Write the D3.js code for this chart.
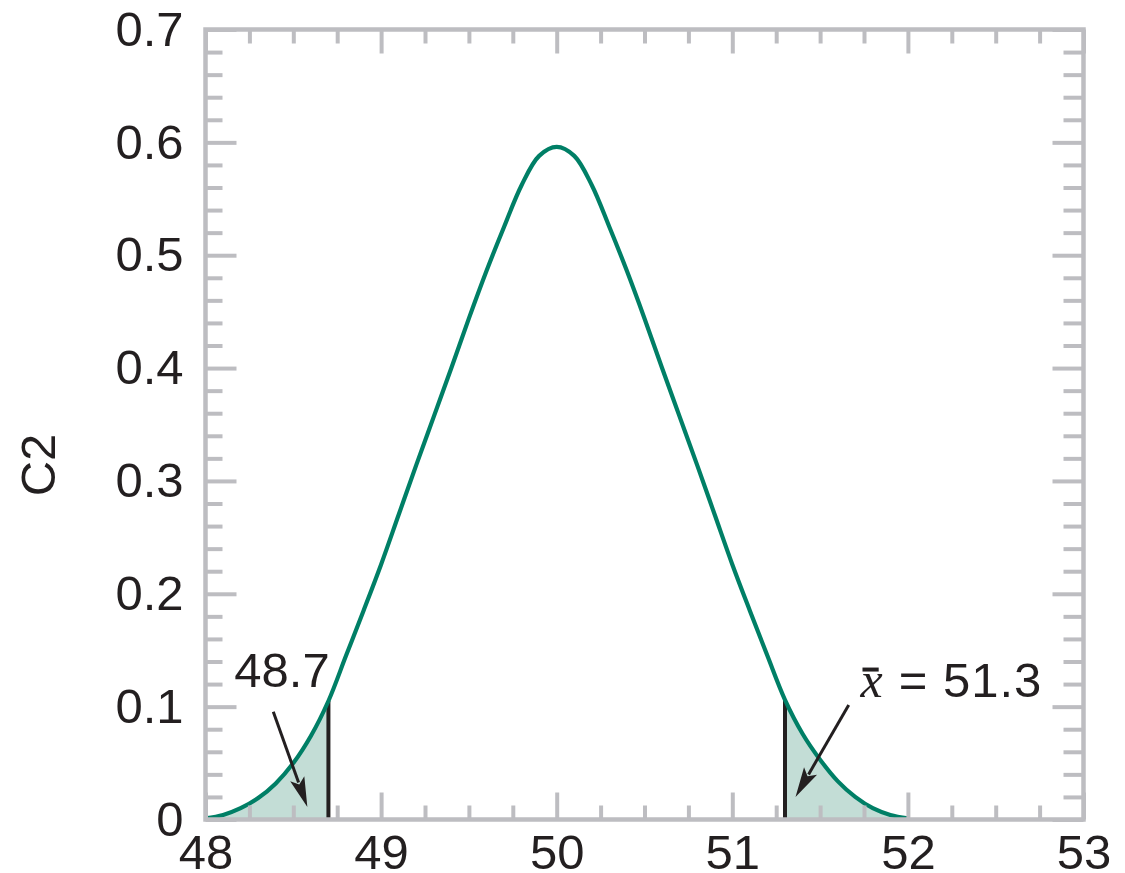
<!DOCTYPE html>
<html>
<head>
<meta charset="utf-8">
<script src="https://cdn.jsdelivr.net/npm/d3@7"></script>
<style>
  html, body { margin: 0; padding: 0; background: #ffffff; }
  svg { display: block; }
  text { font-family: "Liberation Sans", Arial, Helvetica, sans-serif; fill: #231f20; }
</style>
</head>
<body>
<svg id="chart" width="1125" height="873"></svg>
<script>
// ---- data ----
const xValues = [48.0, 48.1, 48.2, 48.3, 48.4, 48.5, 48.6, 48.7, 48.8, 48.9,
                 49.0, 49.1, 49.2, 49.3, 49.4, 49.5, 49.6, 49.7, 49.8, 49.9,
                 50.0, 50.1, 50.2, 50.3, 50.4, 50.5, 50.6, 50.7, 50.8, 50.9,
                 51.0, 51.1, 51.2, 51.3, 51.4, 51.5, 51.6, 51.7, 51.8, 51.9, 52.0];
const c2Values = [0.001, 0.004, 0.010, 0.019, 0.032, 0.050, 0.074, 0.105, 0.145, 0.185,
                  0.226, 0.270, 0.314, 0.357, 0.400, 0.444, 0.486, 0.525, 0.562, 0.588,
                  0.596, 0.588, 0.562, 0.525, 0.486, 0.444, 0.400, 0.357, 0.314, 0.270,
                  0.226, 0.185, 0.145, 0.106, 0.076, 0.053, 0.034, 0.020, 0.010, 0.004, 0.001];
const cutoffs = [48.7, 51.3];
const xMajorTicks = [48, 49, 50, 51, 52, 53];
const xMinorTicks = [48.25, 48.5, 48.75, 49.25, 49.5, 49.75, 50.25, 50.5, 50.75,
                     51.25, 51.5, 51.75, 52.25, 52.5, 52.75];
const yMajorTicks = [0, 0.1, 0.2, 0.3, 0.4, 0.5, 0.6, 0.7];
const yMinorTicks = [0.02, 0.04, 0.06, 0.08, 0.12, 0.14, 0.16, 0.18, 0.22, 0.24, 0.26, 0.28,
                     0.32, 0.34, 0.36, 0.38, 0.42, 0.44, 0.46, 0.48, 0.52, 0.54, 0.56, 0.58,
                     0.62, 0.64, 0.66, 0.68];
const yAxisTitle = "C2";
const leftLabel = "48.7";
const rightLabelValue = "= 51.3";
// annotation arrows in data units: [fromX, fromY, toX, toY]
const arrows = [[48.386, 0.0955, 48.58, 0.011], [51.663, 0.1015, 51.36, 0.020]];

// ---- layout ----
const svg = d3.select("#chart");
const mLeft = 205.5, mRight = 1083.5, mTop = 29.5, mBottom = 819.5;
const x = d3.scaleLinear().domain([48, 53]).range([mLeft, mRight]);
const y = d3.scaleLinear().domain([0, 0.7]).range([mBottom, mTop]);

const gray = "#bdbdc1";
const green = "#007f66";
const fillGreen = "#c3ddd6";
const ink = "#231f20";

const pts = xValues.map((v, i) => ({x: v, y: c2Values[i]}));
const curve = d3.curveCatmullRom.alpha(0.5);

// shaded tails
const area = d3.area().x(d => x(d.x)).y0(y(0)).y1(d => y(d.y)).curve(curve);
svg.append("path").datum(pts.filter(d => d.x <= cutoffs[0] + 1e-9))
  .attr("d", area).attr("fill", fillGreen);
svg.append("path").datum(pts.filter(d => d.x >= cutoffs[1] - 1e-9))
  .attr("d", area).attr("fill", fillGreen);

// cutoff lines
cutoffs.forEach(c => {
  const i = xValues.findIndex(v => Math.abs(v - c) < 1e-9);
  svg.append("line")
    .attr("x1", x(c)).attr("x2", x(c))
    .attr("y1", y(0)).attr("y2", y(c2Values[i]))
    .attr("stroke", ink).attr("stroke-width", 4);
});

// density curve
svg.append("path").datum(pts)
  .attr("d", d3.line().x(d => x(d.x)).y(d => y(d.y)).curve(curve))
  .attr("fill", "none").attr("stroke", green).attr("stroke-width", 4.2)
  .attr("stroke-linejoin", "round");

// ticks (inward on all four sides)
function styleAxis(g) {
  g.select(".domain").remove();
  g.selectAll(".tick line").attr("stroke", gray).attr("stroke-width", 4);
}
svg.append("g").attr("transform", `translate(0,${mBottom})`)
  .call(d3.axisBottom(x).tickValues(xMinorTicks).tickSize(-14).tickFormat(""))
  .call(styleAxis);
svg.append("g").attr("transform", `translate(0,${mTop})`)
  .call(d3.axisTop(x).tickValues(xMinorTicks).tickSize(-14).tickFormat(""))
  .call(styleAxis);
svg.append("g").attr("transform", `translate(0,${mTop})`)
  .call(d3.axisTop(x).tickValues(xMajorTicks).tickSize(-24).tickFormat(""))
  .call(styleAxis);
const xb = svg.append("g").attr("transform", `translate(0,${mBottom})`)
  .call(d3.axisBottom(x).tickValues(xMajorTicks).tickSize(-27).tickPadding(15).tickFormat(d3.format("d")))
  .call(styleAxis);
xb.selectAll("text").style("font-size", "49px").attr("fill", ink)
  .style("font-family", '"Liberation Sans", Arial, sans-serif');

svg.append("g").attr("transform", `translate(${mLeft},0)`)
  .call(d3.axisLeft(y).tickValues(yMinorTicks).tickSize(-17).tickFormat(""))
  .call(styleAxis);
svg.append("g").attr("transform", `translate(${mRight},0)`)
  .call(d3.axisRight(y).tickValues(yMinorTicks).tickSize(-20).tickFormat(""))
  .call(styleAxis);
svg.append("g").attr("transform", `translate(${mRight},0)`)
  .call(d3.axisRight(y).tickValues(yMajorTicks).tickSize(-31).tickFormat(""))
  .call(styleAxis);
const yl = svg.append("g").attr("transform", `translate(${mLeft},0)`)
  .call(d3.axisLeft(y).tickValues(yMajorTicks).tickSize(-31).tickPadding(22)
        .tickFormat(d => d === 0 ? "0" : d3.format(".1f")(d)))
  .call(styleAxis);
yl.selectAll("text").style("font-size", "49px").attr("fill", ink)
  .style("font-family", '"Liberation Sans", Arial, sans-serif');

// frame
svg.append("rect")
  .attr("x", mLeft).attr("y", mTop)
  .attr("width", mRight - mLeft).attr("height", mBottom - mTop)
  .attr("fill", "none").attr("stroke", gray).attr("stroke-width", 4.5);

// y-axis title
svg.append("text")
  .attr("transform", "translate(55,465) rotate(-90)")
  .attr("text-anchor", "middle")
  .style("font-size", "49px")
  .text(yAxisTitle);

// arrows
arrows.forEach(([fx, fy, tx, ty]) => {
  const x1 = x(fx), y1 = y(fy), x2 = x(tx), y2 = y(ty);
  const dx = x2 - x1, dy = y2 - y1, len = Math.hypot(dx, dy);
  const ux = dx / len, uy = dy / len;
  const headLen = 30, halfW = 7.5;
  const bx = x2 - ux * headLen, by = y2 - uy * headLen;
  svg.append("line")
    .attr("x1", x1).attr("y1", y1).attr("x2", bx + ux * 4).attr("y2", by + uy * 4)
    .attr("stroke", ink).attr("stroke-width", 3);
  svg.append("path")
    .attr("d", `M${x2},${y2}L${bx - uy * halfW},${by + ux * halfW}L${bx + ux * 6},${by + uy * 6}L${bx + uy * halfW},${by - ux * halfW}Z`)
    .attr("fill", ink);
});

// annotation labels
svg.append("text")
  .attr("x", x(48.436)).attr("y", y(0.1177))
  .attr("text-anchor", "middle")
  .style("font-size", "49px")
  .text(leftLabel);

const labelBase = y(0.1085);
const xbar = svg.append("text")
  .attr("x", x(51.73)).attr("y", labelBase)
  .style("font-size", "50px")
  .style("font-family", '"Liberation Serif", "Times New Roman", serif')
  .style("font-style", "italic")
  .text("x");
const bb = xbar.node().getBBox();
svg.append("line")
  .attr("x1", bb.x + 3).attr("x2", bb.x + bb.width - 4)
  .attr("y1", labelBase - 27.5).attr("y2", labelBase - 27.5)
  .attr("stroke", ink).attr("stroke-width", 4);
svg.append("text")
  .attr("x", bb.x + bb.width + 16).attr("y", labelBase)
  .style("font-size", "49px")
  .style("letter-spacing", "1px")
  .text(rightLabelValue);
</script>
</body>
</html>
